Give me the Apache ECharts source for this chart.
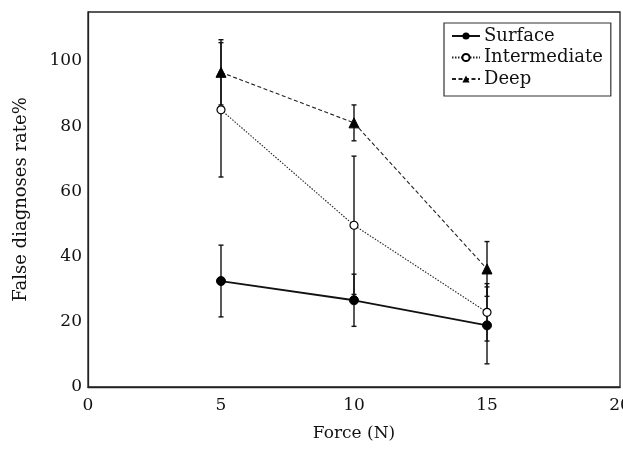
<!DOCTYPE html>
<html>
<head>
<meta charset="utf-8">
<script src="https://cdn.jsdelivr.net/npm/echarts@6/dist/echarts.min.js"></script>
<style>
html, body { margin: 0; padding: 0; background: #fff; }
#chart { width: 623px; height: 462px; }
</style>
</head>
<body>
<div id="chart"></div>
<script>
// force values (N)
var forceX = [5, 10, 15];
// false diagnoses rate (%) and +/- error
var surface = [32.5, 26.6, 18.9];
var surfaceErr = [11, 8, 11.8];
var intermediate = [85, 49.6, 22.9];
var intermediateErr = [20.6, 21.2, 8.8];
var deep = [96.5, 81, 36.2];
var deepErr = [10, 5.5, 8.4];
var yTicks = [0, 20, 40, 60, 80, 100];

var FONT = 'DejaVu Serif';

function pairs(vals) {
    return vals.map(function (v, i) { return [forceX[i], v]; });
}

function errData(vals, errs) {
    return vals.map(function (v, i) { return [forceX[i], v - errs[i], v + errs[i]]; });
}

function errorBars(name, vals, errs) {
    return {
        type: 'custom',
        name: name,
        z: 1,
        silent: true,
        encode: {x: 0, y: [1, 2]},
        renderItem: function (params, api) {
            var x = api.value(0);
            var top = api.coord([x, api.value(2)]);
            var bot = api.coord([x, api.value(1)]);
            var hw = 2.5;
            var st = {stroke: '#111', lineWidth: 1.4};
            return {
                type: 'group',
                children: [
                    {type: 'line', shape: {x1: top[0], y1: top[1], x2: bot[0], y2: bot[1]}, style: st},
                    {type: 'line', shape: {x1: top[0] - hw, y1: top[1], x2: top[0] + hw, y2: top[1]}, style: st},
                    {type: 'line', shape: {x1: bot[0] - hw, y1: bot[1], x2: bot[0] + hw, y2: bot[1]}, style: st}
                ]
            };
        },
        data: errData(vals, errs)
    };
}

var dom = document.getElementById('chart');
var myChart = echarts.init(dom);

var option = {
    backgroundColor: '#fff',
    animation: false,
    textStyle: {fontFamily: FONT, color: '#111'},
    grid: {
        left: 88,
        right: 3,
        top: 12,
        bottom: 75,
        outerBoundsMode: 'none',
        containLabel: false,
        show: true,
        borderColor: '#222',
        borderWidth: 1.3
    },
    legend: {
        orient: 'vertical',
        left: 444,
        top: 23,
        padding: [4, 8, 8, 7],
        itemGap: 3.5,
        itemWidth: 28,
        itemHeight: 9,
        borderColor: '#333',
        borderWidth: 1.2,
        backgroundColor: '#fff',
        data: ['Surface', 'Intermediate', 'Deep'],
        textStyle: {fontFamily: FONT, fontSize: 18, color: '#111', padding: [0, 0, 0, -1]}
    },
    xAxis: {
        type: 'value',
        min: 0,
        max: 20,
        interval: 5,
        name: 'Force (N)',
        nameLocation: 'middle',
        nameGap: 38,
        nameTextStyle: {fontFamily: FONT, fontSize: 17, color: '#111'},
        axisLine: {show: true, lineStyle: {color: '#222', width: 1.3}},
        axisTick: {show: false},
        splitLine: {show: false},
        axisLabel: {fontFamily: FONT, fontSize: 17, color: '#111', margin: 10}
    },
    yAxis: {
        type: 'value',
        min: 0,
        max: 115,
        interval: 20,
        name: 'False diagnoses rate%',
        nameLocation: 'middle',
        nameRotate: 90,
        nameGap: 58,
        nameTextStyle: {fontFamily: FONT, fontSize: 18, color: '#111'},
        axisLine: {show: true, lineStyle: {color: '#222', width: 1.3}},
        axisTick: {show: false},
        splitLine: {show: false},
        axisLabel: {
            fontFamily: FONT, fontSize: 17, color: '#111', margin: 6,
            formatter: function (v) { return yTicks.indexOf(v) >= 0 ? String(v) : ''; }
        }
    },
    series: [
        errorBars('err-surface', surface, surfaceErr),
        errorBars('err-intermediate', intermediate, intermediateErr),
        errorBars('err-deep', deep, deepErr),
        {
            name: 'Surface',
            type: 'line',
            z: 3,
            data: pairs(surface),
            symbol: 'circle',
            symbolSize: 9,
            itemStyle: {color: '#000', borderColor: '#000'},
            lineStyle: {color: '#111', width: 1.8, type: 'solid'}
        },
        {
            name: 'Intermediate',
            type: 'line',
            z: 3,
            data: pairs(intermediate),
            symbol: 'circle',
            symbolSize: 8,
            itemStyle: {color: '#fff', borderColor: '#000', borderWidth: 1.2},
            lineStyle: {color: '#222', width: 1.1, type: [1.5, 1.5]}
        },
        {
            name: 'Deep',
            type: 'line',
            z: 3,
            data: pairs(deep),
            symbol: 'triangle',
            symbolSize: 10,
            itemStyle: {color: '#000', borderColor: '#000'},
            lineStyle: {color: '#222', width: 1.1, type: [4, 2.5]}
        }
    ]
};

if (option && typeof option === "object") {
    myChart.setOption(option, true);
}
window.addEventListener('resize', function () {
    myChart.resize();
});
</script>
</body>
</html>
